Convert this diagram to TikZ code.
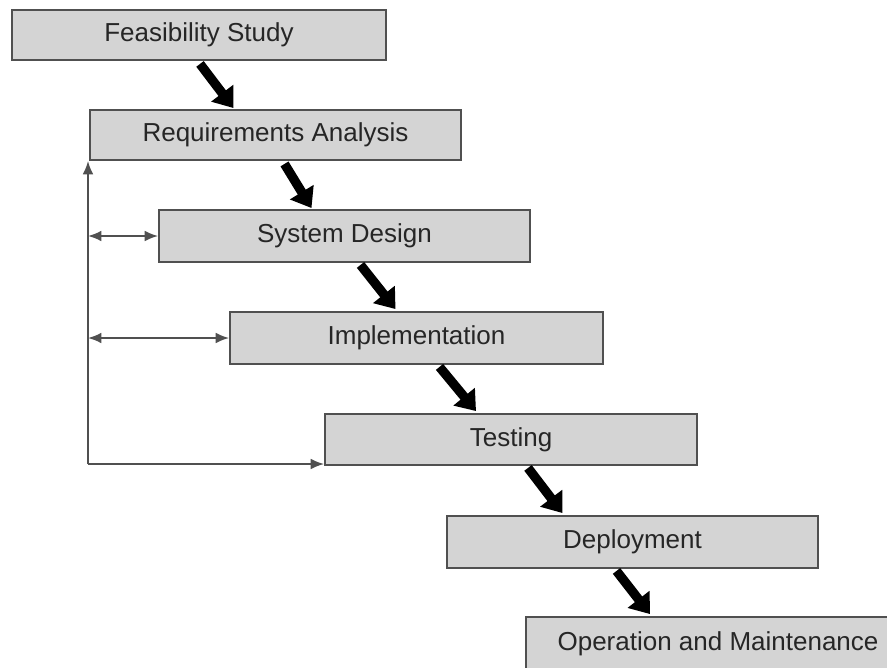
\documentclass[tikz,border=0pt]{standalone}
\usepackage{fontspec}
\setmainfont{Liberation Sans}
\usetikzlibrary{arrows.meta,calc}
\definecolor{boxfill}{HTML}{D4D4D4}
\definecolor{boxline}{HTML}{505050}
\definecolor{txt}{HTML}{262626}
\begin{document}
\begin{tikzpicture}[x=0.75pt,y=-0.75pt,
  stage/.style={draw=boxline,line width=1.4pt,fill=boxfill,rectangle,
    minimum width=371*0.75pt,minimum height=50*0.75pt,inner sep=0pt,
    text=txt,font=\fontsize{19.5}{22}\selectfont},
  flow/.style={line width=7pt,black,-{Triangle[width=20pt,length=14pt]}},
  fb/.style={line width=1.3pt,boxline,-{Latex[length=10pt,width=8pt]}},
  fbb/.style={line width=1.3pt,boxline,{Latex[length=10pt,width=8pt]}-{Latex[length=10pt,width=8pt]}}]
\useasboundingbox (0,0) rectangle (887,667);
\begin{scope}
\clip (0,0) rectangle (887,667);
\node[stage,minimum width=374*0.75pt] (b1) at (199,35) {Feasibility Study};
\node[stage] (b2) at (275.5,135) {Requirements Analysis};
\node[stage,minimum height=52*0.75pt] (b3) at (344.5,236) {System Design};
\node[stage,minimum height=52*0.75pt,minimum width=373*0.75pt] (b4) at (416.5,338) {Implementation};
\node[stage,minimum height=51*0.75pt,minimum width=372*0.75pt] (b5) at (511,439.5) {Testing};
\node[stage,minimum height=52*0.75pt] (b6) at (632.5,542) {Deployment};
\node[stage,minimum width=384*0.75pt,minimum height=54*0.75pt] (b7) at (718,644) {Operation and Maintenance};
\end{scope}
% thick flow arrows
\draw[flow] ($(b1.south)+(1,3)$) -- ($(b2.north)+(-42,-1)$);
\draw[flow] ($(b2.south)+(9,3)$) -- ($(b3.north)+(-33,-1)$);
\draw[flow] ($(b3.south)+(16,2)$) -- ($(b4.north)+(-21,-2)$);
\draw[flow] ($(b4.south)+(23,2)$) -- ($(b5.north)+(-35,-2)$);
\draw[flow] ($(b5.south)+(17,2)$) -- ($(b6.north)+(-70,-2)$);
\draw[flow] ($(b6.south)+(-16,2)$) -- ($(b7.north)+(-68,-2)$);
% feedback lines
\coordinate (fbc) at (88,464);
\draw[fb] (fbc) -- (fbc |- b2.south);
\draw[fb] (fbc) -- (fbc -| b5.west);
\draw[fbb] (fbc |- b3.west) -- (b3.west);
\draw[fbb] (fbc |- b4.west) -- (b4.west);
\end{tikzpicture}
\end{document}
